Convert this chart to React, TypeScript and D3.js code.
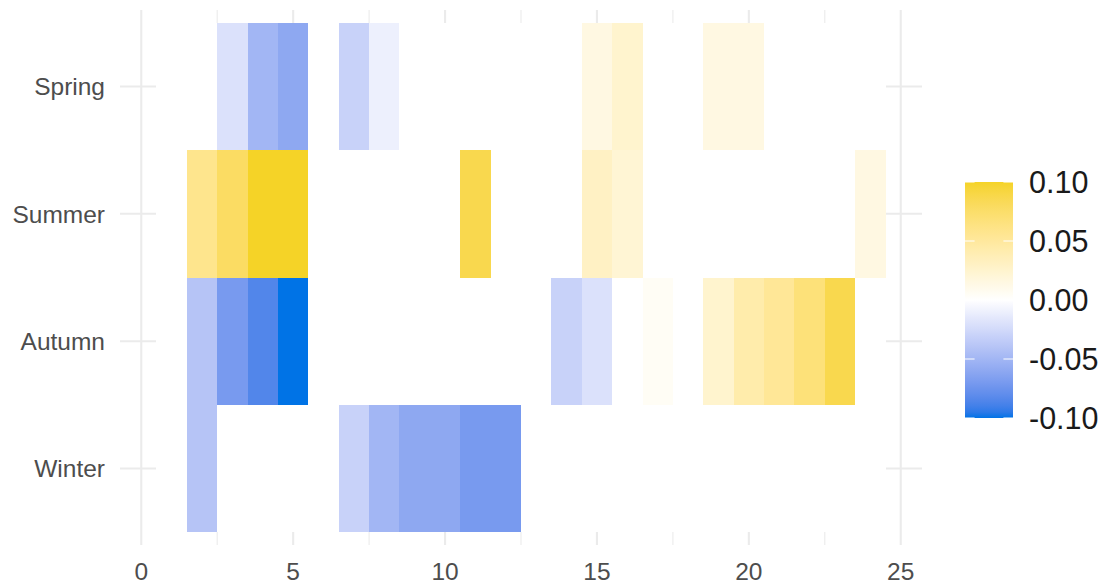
import React from "react";
import * as d3 from "d3";

const seasons = ["Spring", "Summer", "Autumn", "Winter"];
const hours = [1, 2, 3, 4, 5, 6, 7, 8, 9, 10, 11, 12, 13, 14, 15, 16, 17, 18, 19, 20, 21, 22, 23, 24];
const springVals = [0, 0, -0.02, -0.05, -0.06, 0, -0.03, -0.01, 0, 0, 0, 0, 0, 0, 0.015, 0.025, 0, 0, 0.015, 0.015, 0, 0, 0, 0];
const summerVals = [0, 0.058, 0.078, 0.1, 0.1, 0, 0, 0, 0, 0, 0.087, 0, 0, 0, 0.03, 0.022, 0, 0, 0, 0, 0, 0, 0, 0.015];
const autumnVals = [0, -0.04, -0.07, -0.085, -0.1, 0, 0, 0, 0, 0, 0, 0, 0, -0.03, -0.02, 0, 0.005, 0, 0.025, 0.043, 0.053, 0.068, 0.087, 0];
const winterVals = [0, -0.04, 0, 0, 0, 0, -0.03, -0.05, -0.06, -0.06, -0.07, -0.07, 0, 0, 0, 0, 0, 0, 0, 0, 0, 0, 0, 0];
const seriesBySeason = [springVals, summerVals, autumnVals, winterVals];
const xTicks = [0, 5, 10, 15, 20, 25];
const xMinor = [2.5, 7.5, 12.5, 17.5, 22.5];
const legendTicks = [0.1, 0.05, 0, -0.05, -0.1];

const LOW = "#0073E6";
const MID = "#FFFFFF";
const HIGH = "#F5D327";

function fill(v: number) {
  const t = Math.max(-1, Math.min(1, v / 0.1));
  if (t >= 0) return d3.interpolateLab(MID, HIGH)(t);
  return d3.interpolateLab(MID, LOW)(-t);
}

export default function App() {
  const W = 1108, H = 585;
  const pL = 120, pR = 922, pT = 10, pB = 545;
  const x = d3.scaleLinear().domain([-0.7, 25.7]).range([pL, pR]);
  const y = d3.scaleLinear().domain([0.4, 4.6]).range([pT, pB]);
  const yPos = (i: number) => y(i + 1);
  const grid = "#EBEBEB";

  const tiles: { x: number; s: number; v: number }[] = [];
  seriesBySeason.forEach((vals, s) => vals.forEach((v, i) => tiles.push({ x: hours[i], s, v })));

  const lx = 965, lw = 48, lTop = 182, lBot = 418;
  const ly = d3.scaleLinear().domain([-0.1, 0.1]).range([lBot, lTop]);
  const stops = d3.range(0, 41).map((i) => -0.1 + (0.2 * i) / 40);

  return (
    <svg width={W} height={H} style={{ position: "absolute", left: 0, top: 0, background: "#fff" }}
      fontFamily="'Liberation Sans', Arial, sans-serif">
      <defs>
        <linearGradient id="lg" x1="0" y1="1" x2="0" y2="0">
          {stops.map((v, i) => (
            <stop key={i} offset={`${(i / 40) * 100}%`} stopColor={fill(v)} />
          ))}
        </linearGradient>
      </defs>
      {/* grid */}
      {xMinor.map((t) => (
        <line key={"m" + t} x1={x(t)} x2={x(t)} y1={pT} y2={pB} stroke={grid} strokeWidth={1.1} />
      ))}
      {xTicks.map((t) => (
        <line key={"M" + t} x1={x(t)} x2={x(t)} y1={pT} y2={pB} stroke={grid} strokeWidth={2.1} />
      ))}
      {seasons.map((s, i) => (
        <line key={"h" + s} x1={pL} x2={pR} y1={yPos(i)} y2={yPos(i)} stroke={grid} strokeWidth={2.1} />
      ))}
      {/* tiles */}
      {tiles.map((d, i) => (
        <rect key={i} x={x(d.x - 0.5)} width={x(d.x + 0.5) - x(d.x - 0.5)}
          y={y(d.s + 0.5)} height={y(d.s + 1.5) - y(d.s + 0.5)} fill={fill(d.v)}
          shapeRendering="crispEdges" />
      ))}
      {/* y labels */}
      {seasons.map((s, i) => (
        <text key={"yl" + s} x={pL - 15} y={yPos(i)} dy="0.36em" textAnchor="end" fontSize={24.5} fill="#4D4D4D">{s}</text>
      ))}
      {/* x labels */}
      {xTicks.map((t) => (
        <text key={"xl" + t} x={x(t)} y={571} dy="0.36em" textAnchor="middle" fontSize={24.5} fill="#4D4D4D">{t}</text>
      ))}
      {/* legend */}
      <rect x={lx} y={lTop} width={lw} height={lBot - lTop} fill="url(#lg)" />
      {legendTicks.map((t) => (
        <g key={"lt" + t}>
          <line x1={lx} x2={lx + lw / 5} y1={ly(t)} y2={ly(t)} stroke="#fff" strokeWidth={1} />
          <line x1={lx + lw - lw / 5} x2={lx + lw} y1={ly(t)} y2={ly(t)} stroke="#fff" strokeWidth={1} />
          <text x={1029} y={ly(t)} dy="0.36em" fontSize={30.5} fill="#1A1A1A">{t.toFixed(2)}</text>
        </g>
      ))}
    </svg>
  );
}
